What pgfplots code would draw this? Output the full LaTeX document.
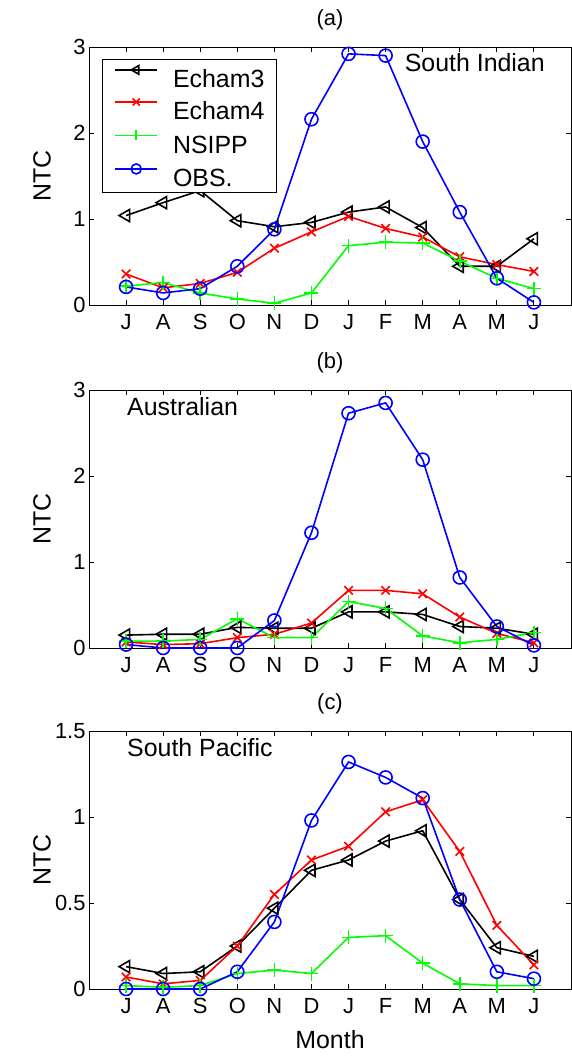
\documentclass[border=0pt]{standalone}
\usepackage{pgfplots}
\usepackage{pgfplotstable}
\pgfplotsset{compat=1.18}
\usepackage{fontspec}
\setmainfont{Liberation Sans}
\definecolor{mgreen}{rgb}{0,1,0}

\pgfplotstableread{
x e3 e4 ns obs
0 1.04 0.36 0.22 0.21
1 1.19 0.20 0.26 0.14
2 1.33 0.25 0.14 0.19
3 0.98 0.38 0.07 0.45
4 0.91 0.66 0.02 0.88
5 0.96 0.85 0.14 2.16
6 1.08 1.03 0.69 2.92
7 1.14 0.89 0.73 2.90
8 0.90 0.79 0.72 1.90
9 0.45 0.56 0.51 1.08
10 0.45 0.47 0.31 0.31
11 0.77 0.39 0.19 0.03
}\tabA
\pgfplotstableread{
x e3 e4 ns obs
0 0.15 0.07 0.08 0.04
1 0.16 0.04 0.08 0.00
2 0.16 0.05 0.10 0.00
3 0.24 0.12 0.34 0.00
4 0.23 0.16 0.12 0.32
5 0.23 0.29 0.12 1.34
6 0.42 0.67 0.54 2.73
7 0.42 0.67 0.46 2.85
8 0.39 0.63 0.14 2.19
9 0.25 0.36 0.06 0.82
10 0.23 0.17 0.10 0.25
11 0.16 0.06 0.18 0.03
}\tabB
\pgfplotstableread{
x e3 e4 ns obs
0 0.13 0.07 0.02 0.00
1 0.09 0.03 0.01 0.00
2 0.10 0.05 0.02 0.00
3 0.25 0.25 0.09 0.10
4 0.47 0.55 0.11 0.39
5 0.69 0.75 0.09 0.98
6 0.75 0.83 0.30 1.32
7 0.86 1.03 0.31 1.23
8 0.92 1.10 0.15 1.11
9 0.52 0.80 0.03 0.52
10 0.24 0.37 0.02 0.10
11 0.19 0.14 0.02 0.06
}\tabC

\pgfplotsset{
  ntc/.style={
    scale only axis, width=482bp, height=258bp,
    xmin=-1, xmax=12, xtick={0,...,11},
    xticklabels={J,A,S,O,N,D,J,F,M,A,M,J},
    ymin=0,
    tick align=inside, major tick length=5bp,
    axis line style={line width=0.9bp},
    every tick/.style={black, line width=0.9bp},
    tick label style={font=\fontsize{22}{26}\selectfont},
    xticklabel style={yshift=-6bp},
    /pgf/number format/assume math mode=true,
    ylabel={NTC},
    every axis y label/.style={at={(axis description cs:-0.0975,0.5)}, rotate=90, anchor=center, font=\fontsize{25}{30}\selectfont},
    every axis x label/.style={at={(axis description cs:0.5,0)}, anchor=center, yshift=-51bp, font=\fontsize{25}{30}\selectfont},
    every axis title/.style={at={(axis description cs:0.5,1)}, anchor=center, yshift=27bp, font=\fontsize{22}{26}\selectfont},
    clip=false,
  },
  e3/.style={black, line width=1.6bp, mark=triangle, mark size=7bp, mark options={rotate=90, solid, fill=none}},
  e4/.style={red, line width=1.6bp, mark=x, mark size=6bp, mark options={solid}},
  ns/.style={mgreen, line width=1.6bp, mark=+, mark size=7bp, mark options={solid}},
  ob/.style={blue, line width=1.6bp, mark=o, mark size=6.5bp, mark options={solid, fill=none}},
}

\begin{document}
\begin{tikzpicture}
\useasboundingbox (-89bp,-68bp) rectangle (483bp,989bp);

% (a)
\begin{axis}[ntc, at={(0bp,684bp)}, anchor=south west,
  ymax=3, ytick={0,1,2,3}, title={(a)},
  legend style={at={(axis description cs:0.027,0.953)}, anchor=north west,
    draw=black, line width=0.9bp, font=\fontsize{25}{30}\selectfont,
    inner xsep=12bp, inner ysep=6bp, row sep=10.5bp,
    /tikz/every odd column/.append style={column sep=15bp},
    nodes={inner sep=0bp, text height=18bp, text depth=0bp}},
  legend cell align=left,
  legend image code/.code={\draw[mark repeat=2,mark phase=2, mark size=5bp] plot coordinates {(0bp,9bp) (21bp,9bp) (42bp,9bp)};},
]
\addplot[e3] table[x=x,y=e3] {\tabA};
\addplot[e4] table[x=x,y=e4] {\tabA};
\addplot[ns] table[x=x,y=ns] {\tabA};
\addplot[ob] table[x=x,y=obs] {\tabA};
\legend{Echam3,Echam4,NSIPP,OBS.}
\node[anchor=west, font=\fontsize{25}{30}\selectfont] at (axis description cs:0.648,0.94) {South Indian};
\end{axis}

% (b)
\begin{axis}[ntc, at={(0bp,341bp)}, anchor=south west,
  ymax=3, ytick={0,1,2,3}, title={(b)}]
\addplot[e3] table[x=x,y=e3] {\tabB};
\addplot[e4] table[x=x,y=e4] {\tabB};
\addplot[ns] table[x=x,y=ns] {\tabB};
\addplot[ob] table[x=x,y=obs] {\tabB};
\node[anchor=west, font=\fontsize{25}{30}\selectfont] at (axis description cs:0.072,0.935) {Australian};
\end{axis}

% (c)
\begin{axis}[ntc, at={(0bp,0bp)}, anchor=south west,
  ymax=1.5, ytick={0,0.5,1,1.5}, title={(c)}, xlabel={Month}]
\addplot[e3] table[x=x,y=e3] {\tabC};
\addplot[e4] table[x=x,y=e4] {\tabC};
\addplot[ns] table[x=x,y=ns] {\tabC};
\addplot[ob] table[x=x,y=obs] {\tabC};
\node[anchor=west, font=\fontsize{25}{30}\selectfont] at (axis description cs:0.072,0.934) {South Pacific};
\end{axis}
\end{tikzpicture}
\end{document}
